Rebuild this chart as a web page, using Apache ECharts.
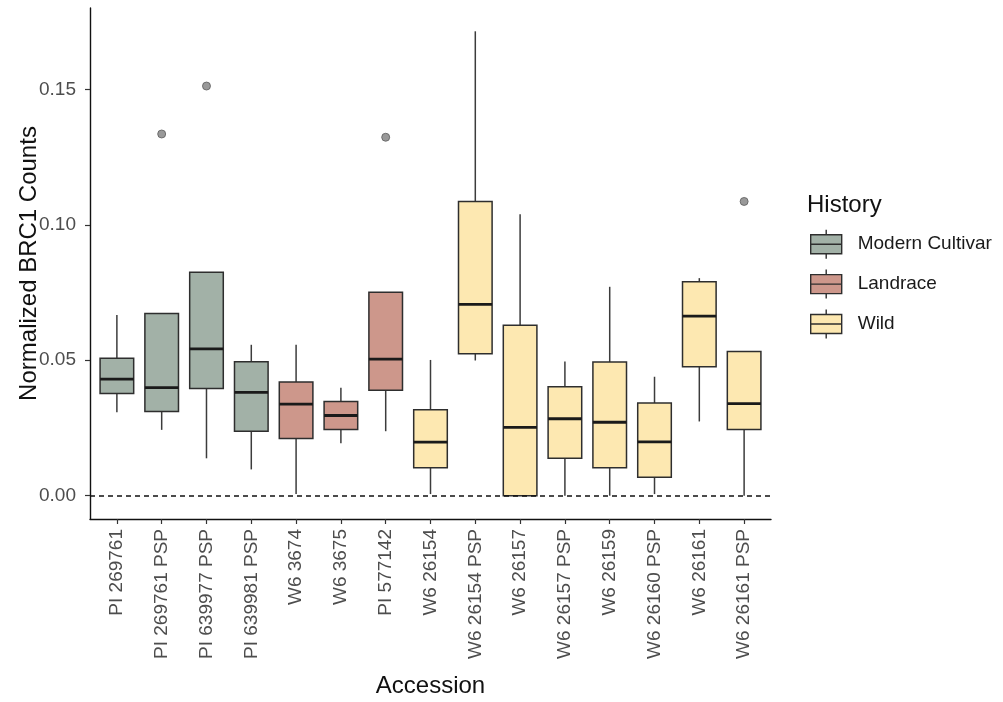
<!DOCTYPE html>
<html>
<head>
<meta charset="utf-8">
<title>Normalized BRC1 Counts by Accession</title>
<script src="https://cdn.jsdelivr.net/npm/echarts@6/dist/echarts.min.js"></script>
<style>
  html, body { margin: 0; padding: 0; background: #ffffff; }
  #chart { width: 1003px; height: 702px; }
</style>
</head>
<body>
<div id="chart"></div>
<script>
// Accessions along the x axis, in plotting order
const accessions = [
  'PI 269761', 'PI 269761 PSP', 'PI 639977 PSP', 'PI 639981 PSP',
  'W6 3674', 'W6 3675', 'PI 577142', 'W6 26154', 'W6 26154 PSP',
  'W6 26157', 'W6 26157 PSP', 'W6 26159', 'W6 26160 PSP', 'W6 26161',
  'W6 26161 PSP'
];
// Domestication history of each accession
const history = [
  'Modern Cultivar', 'Modern Cultivar', 'Modern Cultivar', 'Modern Cultivar',
  'Landrace', 'Landrace', 'Landrace',
  'Wild', 'Wild', 'Wild', 'Wild', 'Wild', 'Wild', 'Wild', 'Wild'
];
const historyGroups = ['Modern Cultivar', 'Landrace', 'Wild'];

// Box statistics per accession
const whiskerLow  = [0.0308, 0.0243, 0.0138, 0.0097, 0.0006, 0.0194, 0.0238, 0.0006, 0.0499, 0.0000, 0.0000, 0.0000, 0.0006, 0.0274, 0.0000];
const quartile1   = [0.0377, 0.0311, 0.0396, 0.0238, 0.0211, 0.0244, 0.0389, 0.0103, 0.0524, 0.0000, 0.0138, 0.0103, 0.0068, 0.0476, 0.0244];
const medians     = [0.0430, 0.0399, 0.0542, 0.0381, 0.0338, 0.0296, 0.0504, 0.0198, 0.0706, 0.0252, 0.0284, 0.0271, 0.0199, 0.0663, 0.0340];
const quartile3   = [0.0507, 0.0672, 0.0825, 0.0494, 0.0420, 0.0348, 0.0751, 0.0317, 0.1086, 0.0629, 0.0402, 0.0493, 0.0342, 0.0790, 0.0532];
const whiskerHigh = [0.0667, 0.0672, 0.0825, 0.0557, 0.0557, 0.0398, 0.0751, 0.0501, 0.1714, 0.1039, 0.0495, 0.0771, 0.0439, 0.0803, 0.0532];

// Outlying observations: accession index and value
const outlierIndex = [1, 2, 6, 14];
const outlierValue = [0.1335, 0.1512, 0.1323, 0.1086];

// Y axis tick values
const yTicks = [0, 0.05, 0.10, 0.15];

const groupColors = {
  'Modern Cultivar': '#a2b1a7',
  'Landrace': '#cd978b',
  'Wild': '#fde8b1'
};
const edgeColor = '#2e2e2e';

// Legend key: whiskers, box and median line
const keyPath = 'path://M15.5,0L15.5,5M0.5,5L30.5,5L30.5,24L0.5,24ZM0.5,14.5L30.5,14.5M15.5,24L15.5,29';

function renderBox(params, api) {
  const i = api.value(0);
  const x = api.coord([i, 0])[0];
  const yLo = api.coord([i, api.value(1)])[1];
  const yQ1 = api.coord([i, api.value(2)])[1];
  const yMed = api.coord([i, api.value(3)])[1];
  const yQ3 = api.coord([i, api.value(4)])[1];
  const yHi = api.coord([i, api.value(5)])[1];
  const half = api.size([1, 0])[0] * 0.375;
  const fill = api.visual('color');
  const whisker = { stroke: '#3c3c3c', lineWidth: 1.5 };
  return {
    type: 'group',
    children: [
      { type: 'line', shape: { x1: x, y1: yHi, x2: x, y2: yQ3 }, style: whisker },
      { type: 'line', shape: { x1: x, y1: yQ1, x2: x, y2: yLo }, style: whisker },
      {
        type: 'rect',
        shape: { x: x - half, y: yQ3, width: half * 2, height: yQ1 - yQ3 },
        style: { fill: fill, stroke: edgeColor, lineWidth: 1.5 }
      },
      {
        type: 'line',
        shape: { x1: x - half, y1: yMed, x2: x + half, y2: yMed },
        style: { stroke: '#1a1a1a', lineWidth: 2.8 }
      }
    ]
  };
}

const boxSeries = historyGroups.map(function (group) {
  const rows = [];
  accessions.forEach(function (name, i) {
    if (history[i] === group) {
      rows.push([i, whiskerLow[i], quartile1[i], medians[i], quartile3[i], whiskerHigh[i]]);
    }
  });
  return {
    name: group,
    type: 'custom',
    renderItem: renderBox,
    itemStyle: { color: groupColors[group] },
    encode: { x: 0, y: [1, 2, 3, 4, 5] },
    data: rows,
    silent: true,
    z: 3
  };
});

const outlierSeries = {
  name: 'outliers',
  type: 'scatter',
  data: outlierIndex.map(function (idx, k) { return [idx, outlierValue[k]]; }),
  symbol: 'circle',
  symbolSize: 8,
  itemStyle: { color: '#808080', borderColor: '#5c5c5c', borderWidth: 1 },
  silent: true,
  z: 4
};

// Zero reference line
const zeroLine = {
  name: 'zero',
  type: 'line',
  data: [],
  silent: true,
  markLine: {
    silent: true,
    symbol: ['none', 'none'],
    label: { show: false },
    lineStyle: { color: '#111111', type: [5, 4], width: 1.7 },
    data: [{ yAxis: 0 }]
  },
  z: 2
};

const option = {
  backgroundColor: '#ffffff',
  animation: false,
  textStyle: { fontFamily: 'Liberation Sans, Arial, sans-serif' },
  title: {
    text: 'History',
    left: 807,
    top: 193,
    padding: 0,
    textStyle: { fontSize: 24, fontWeight: 'normal', color: '#111111', fontFamily: 'Liberation Sans, Arial, sans-serif' }
  },
  legend: {
    orient: 'vertical',
    left: 810,
    top: 229,
    padding: 0,
    itemWidth: 31,
    itemHeight: 29,
    itemGap: 9.5,
    selectedMode: false,
    symbolKeepAspect: false,
    textStyle: { fontSize: 19, color: '#1a1a1a', padding: [0, 0, 0, 11], fontFamily: 'Liberation Sans, Arial, sans-serif' },
    data: historyGroups.map(function (group) {
      return {
        name: group,
        icon: keyPath,
        itemStyle: { color: groupColors[group], borderColor: edgeColor, borderWidth: 1.4 }
      };
    })
  },
  grid: {
    left: 90,
    right: 232,
    top: 8,
    bottom: 183,
    containLabel: false,
    outerBoundsMode: 'none'
  },
  xAxis: {
    type: 'value',
    min: -0.6,
    max: accessions.length - 0.4,
    name: 'Accession',
    nameLocation: 'middle',
    nameGap: 155,
    nameTextStyle: { fontSize: 24, color: '#111111' },
    splitLine: { show: false },
    axisLine: { onZero: false, lineStyle: { color: '#111111', width: 1.4 } },
    axisTick: {
      show: true,
      length: 5,
      lineStyle: { color: '#333333', width: 1.2 },
      customValues: accessions.map(function (_, i) { return i; })
    },
    axisLabel: {
      rotate: 90,
      margin: 10,
      fontSize: 19,
      color: '#4d4d4d',
      customValues: accessions.map(function (_, i) { return i; }),
      formatter: function (v) { return accessions[Math.round(v)]; }
    }
  },
  yAxis: {
    type: 'value',
    min: -0.0086,
    max: 0.18,
    name: 'Normalized BRC1 Counts',
    nameLocation: 'middle',
    nameGap: 49,
    nameMoveOverlap: false,
    nameTextStyle: { fontSize: 24, color: '#111111' },
    splitLine: { show: false },
    axisLine: { show: true, onZero: false, lineStyle: { color: '#111111', width: 1.4 } },
    axisTick: {
      show: true,
      length: 5,
      lineStyle: { color: '#333333', width: 1.2 },
      customValues: yTicks
    },
    axisLabel: {
      margin: 14,
      fontSize: 19,
      color: '#4d4d4d',
      customValues: yTicks,
      formatter: function (v) { return v.toFixed(2); }
    }
  },
  series: boxSeries.concat([outlierSeries, zeroLine])
};

const chart = echarts.init(document.getElementById('chart'), null, { renderer: 'canvas' });
chart.setOption(option);
</script>
</body>
</html>
